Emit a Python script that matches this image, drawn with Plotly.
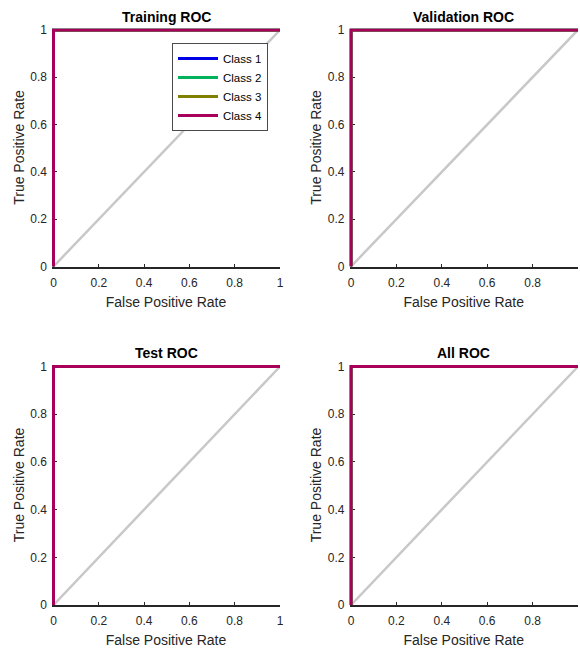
import plotly.graph_objects as go

# Data
panels = ["Training ROC", "Validation ROC", "Test ROC", "All ROC"]
classes = ["Class 1", "Class 2", "Class 3", "Class 4"]
colors = ["#0000E6", "#00B35A", "#808000", "#A8005A"]
roc_fpr = [0, 0, 1]
roc_tpr = [0, 1, 1]
diag_x = [0, 1]
diag_y = [0, 1]
ticks = [0, 0.2, 0.4, 0.6, 0.8, 1]
tick_text = ["0", "0.2", "0.4", "0.6", "0.8", "1"]

W, H = 580, 650


def px_x(s):
    return s / W


def px_y(s):
    return 1 - s / H


xdoms = [(px_x(52), px_x(280)), (px_x(349.5), px_x(578))]
ydoms = [(px_y(266.5), px_y(28.5)), (px_y(605), px_y(365))]

fig = go.Figure()
font = "Liberation Sans, Arial, sans-serif"
layout = {}
annotations = []
for i, name in enumerate(panels):
    r, c = divmod(i, 2)
    ax = "" if i == 0 else str(i + 1)
    xa, ya = "x" + ax, "y" + ax
    fig.add_trace(go.Scatter(x=diag_x, y=diag_y, mode="lines",
                             line=dict(color="#C8C8C8", width=2.5),
                             showlegend=False, hoverinfo="skip",
                             xaxis=xa, yaxis=ya))
    for k, cl in enumerate(classes):
        fig.add_trace(go.Scatter(x=roc_fpr, y=roc_tpr, mode="lines", name=cl,
                                 line=dict(color=colors[k], width=3),
                                 showlegend=(i == 0), xaxis=xa, yaxis=ya))
    common = dict(tickvals=ticks, ticktext=tick_text,
                  ticks="inside", tickcolor="#262626",
                  showgrid=False, zeroline=False,
                  linecolor="#262626", linewidth=2, automargin=False,
                  ticklabelstandoff=4, layer="below traces",
                  tickfont=dict(family=font, size=12, color="#262626"),
                  fixedrange=True)
    layout["xaxis" + ax] = dict(common, range=[-0.0066, 1.0], domain=list(xdoms[c]),
                                anchor=ya, showline=True, ticklen=3,
                                title=dict(text="False Positive Rate",
                                           font=dict(family=font, size=14, color="#262626"),
                                           standoff=8))
    layout["yaxis" + ax] = dict(common, range=[0, 1.0063], domain=list(ydoms[r]),
                                anchor=xa, showline=False, ticklen=5,
                                title=dict(text="True Positive Rate",
                                           font=dict(family=font, size=14, color="#262626"),
                                           standoff=2))
    annotations.append(dict(text="<b>" + name + "</b>", xref="paper", yref="paper",
                            x=(xdoms[c][0] + xdoms[c][1]) / 2, y=ydoms[r][1],
                            xanchor="center", yanchor="bottom", yshift=2,
                            showarrow=False,
                            font=dict(family=font, size=14, color="#000000")))

fig.update_layout(
    width=W, height=H,
    margin=dict(l=0, r=0, t=0, b=0),
    paper_bgcolor="white", plot_bgcolor="white",
    annotations=annotations,
    legend=dict(x=px_x(172), y=px_y(43), xanchor="left", yanchor="top",
                bgcolor="white", bordercolor="#4A4A4A", borderwidth=1,
                font=dict(family=font, size=11.5, color="#000000"),
                tracegroupgap=0, itemwidth=40),
    **layout,
)
fig.write_html("out.html", config={"displayModeBar": False},
               post_script="document.body.style.margin='0';"
                           "document.body.style.overflow='hidden';")
